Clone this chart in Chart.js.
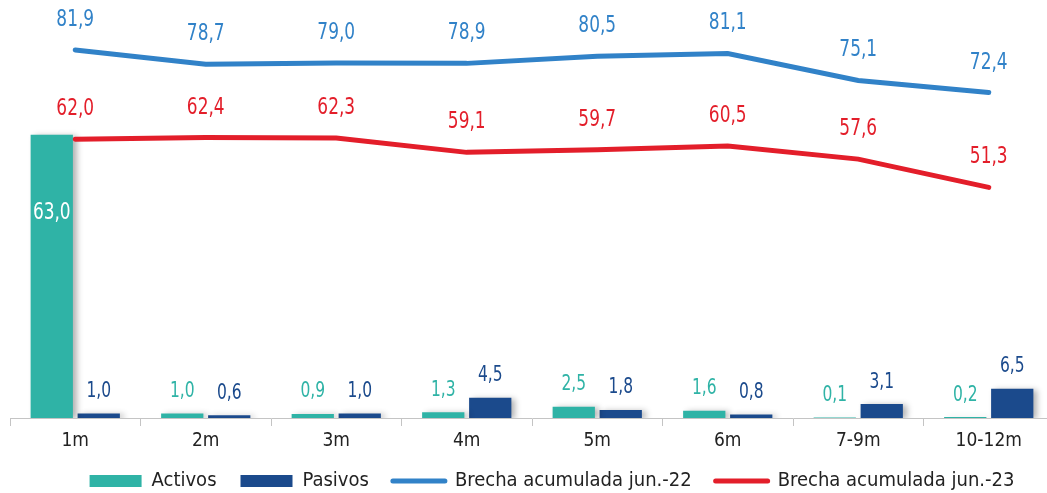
<!DOCTYPE html>
<html>
<head>
<meta charset="utf-8">
<script src="https://cdn.jsdelivr.net/npm/chart.js@4.4.0/dist/chart.umd.min.js"></script>
<style>
html, body { margin: 0; padding: 0; background: #fff; overflow: hidden; }
#wrap { width: 1104px; height: 493px; position: relative; }
</style>
</head>
<body>
<div id="wrap"><canvas id="myChart"></canvas></div>
<script>
var categories = ["1m", "2m", "3m", "4m", "5m", "6m", "7-9m", "10-12m"];
var activos = [63.0, 1.0, 0.9, 1.3, 2.5, 1.6, 0.1, 0.2];
var pasivos = [1.0, 0.6, 1.0, 4.5, 1.8, 0.8, 3.1, 6.5];
var brecha22 = [81.9, 78.7, 79.0, 78.9, 80.5, 81.1, 75.1, 72.4];
var brecha23 = [62.0, 62.4, 62.3, 59.1, 59.7, 60.5, 57.6, 51.3];

var FONT = '"Liberation Sans Narrow", "DejaVu Sans Condensed", sans-serif';

// drop shadow on the bars
var barShadow = {
  id: 'barShadow',
  beforeDatasetDraw: function(chart, args) {
    if (args.meta.type !== 'bar') return;
    var ctx = chart.ctx;
    ctx.save();
    ctx.shadowColor = 'rgba(0,0,0,0.3)';
    ctx.shadowBlur = 6;
    ctx.shadowOffsetX = 4;
    ctx.shadowOffsetY = 1;
  },
  afterDatasetDraw: function(chart, args) {
    if (args.meta.type === 'bar') chart.ctx.restore();
  }
};

// value labels, drawn a bit squeezed to look like the narrow font of the original
var valueLabels = {
  id: 'valueLabels',
  afterDatasetsDraw: function(chart) {
    var ctx = chart.ctx;
    chart.data.datasets.forEach(function(ds, i) {
      var meta = chart.getDatasetMeta(i);
      meta.data.forEach(function(el, j) {
        var txt = ds.data[j].toFixed(1).replace('.', ',');
        var y, size = 23;
        ctx.save();
        ctx.fillStyle = ds.labelColor;
        if (meta.type === 'bar') {
          size = 21;
          if (el.base - el.y > 100) {
            ctx.fillStyle = '#fff';
            size = 23;
            y = el.y + 78;
          } else {
            y = el.y - 22;
          }
        } else {
          y = el.y - 30;
        }
        ctx.font = size + 'px ' + FONT;
        ctx.textAlign = 'center';
        ctx.textBaseline = 'middle';
        ctx.translate(el.x, y);
        ctx.scale(0.82, 1);
        ctx.fillText(txt, 0, 0);
        ctx.restore();
      });
    });
  }
};

// the legend in the original sits a little right of the middle
var legendShift = {
  id: 'legendShift',
  afterLayout: function(chart) {
    chart.legend.left += 40;
  }
};

var ctx = document.getElementById("myChart");

var myChart = new Chart(ctx, {
  type: 'bar',
  data: {
    labels: categories,
    datasets: [{
      label: "Activos",
      data: activos,
      backgroundColor: "#2FB3A6",
      labelColor: "#2FB3A6",
      categoryPercentage: 0.72,
      barPercentage: 0.9,
      order: 2
    }, {
      label: "Pasivos",
      data: pasivos,
      backgroundColor: "#1B4A8C",
      labelColor: "#1B4A8C",
      categoryPercentage: 0.72,
      barPercentage: 0.9,
      order: 2
    }, {
      type: 'line',
      label: "Brecha acumulada jun.-22",
      data: brecha22,
      borderColor: "#3182C8",
      labelColor: "#3182C8",
      borderWidth: 5,
      borderCapStyle: 'round',
      pointRadius: 0,
      tension: 0,
      order: 1
    }, {
      type: 'line',
      label: "Brecha acumulada jun.-23",
      data: brecha23,
      borderColor: "#E31E2A",
      labelColor: "#E31E2A",
      borderWidth: 5,
      borderCapStyle: 'round',
      pointRadius: 0,
      tension: 0,
      order: 1
    }]
  },
  options: {
    responsive: true,
    maintainAspectRatio: false,
    animation: false,
    layout: {
      padding: { left: 10, right: 50, top: 0, bottom: -8 }
    },
    plugins: {
      tooltip: { enabled: false },
      legend: {
        position: 'bottom',
        labels: {
          usePointStyle: true,
          pointStyleWidth: 52,
          boxHeight: 12,
          padding: 24,
          color: '#222',
          font: { family: FONT, size: 20 },
          generateLabels: function(chart) {
            return chart.data.datasets.map(function(ds, i) {
              var isLine = ds.type === 'line';
              return {
                text: ds.label,
                datasetIndex: i,
                fillStyle: isLine ? ds.borderColor : ds.backgroundColor,
                strokeStyle: isLine ? ds.borderColor : ds.backgroundColor,
                lineWidth: isLine ? 5 : 0,
                lineCap: 'round',
                pointStyle: isLine ? 'line' : 'rect',
                fontColor: '#222'
              };
            });
          }
        }
      }
    },
    scales: {
      x: {
        offset: true,
        afterFit: function(scale) { scale.height = 29; },
        grid: {
          display: true,
          offset: true,
          drawOnChartArea: false,
          drawTicks: true,
          tickLength: 8,
          color: '#c4c4c4'
        },
        border: { display: true, color: '#c4c4c4', width: 1 },
        ticks: {
          color: '#222',
          padding: 4,
          font: { family: FONT, size: 19 }
        }
      },
      y: {
        display: false,
        min: 0,
        max: 93
      }
    }
  },
  plugins: [barShadow, valueLabels, legendShift]
});
</script>
</body>
</html>
